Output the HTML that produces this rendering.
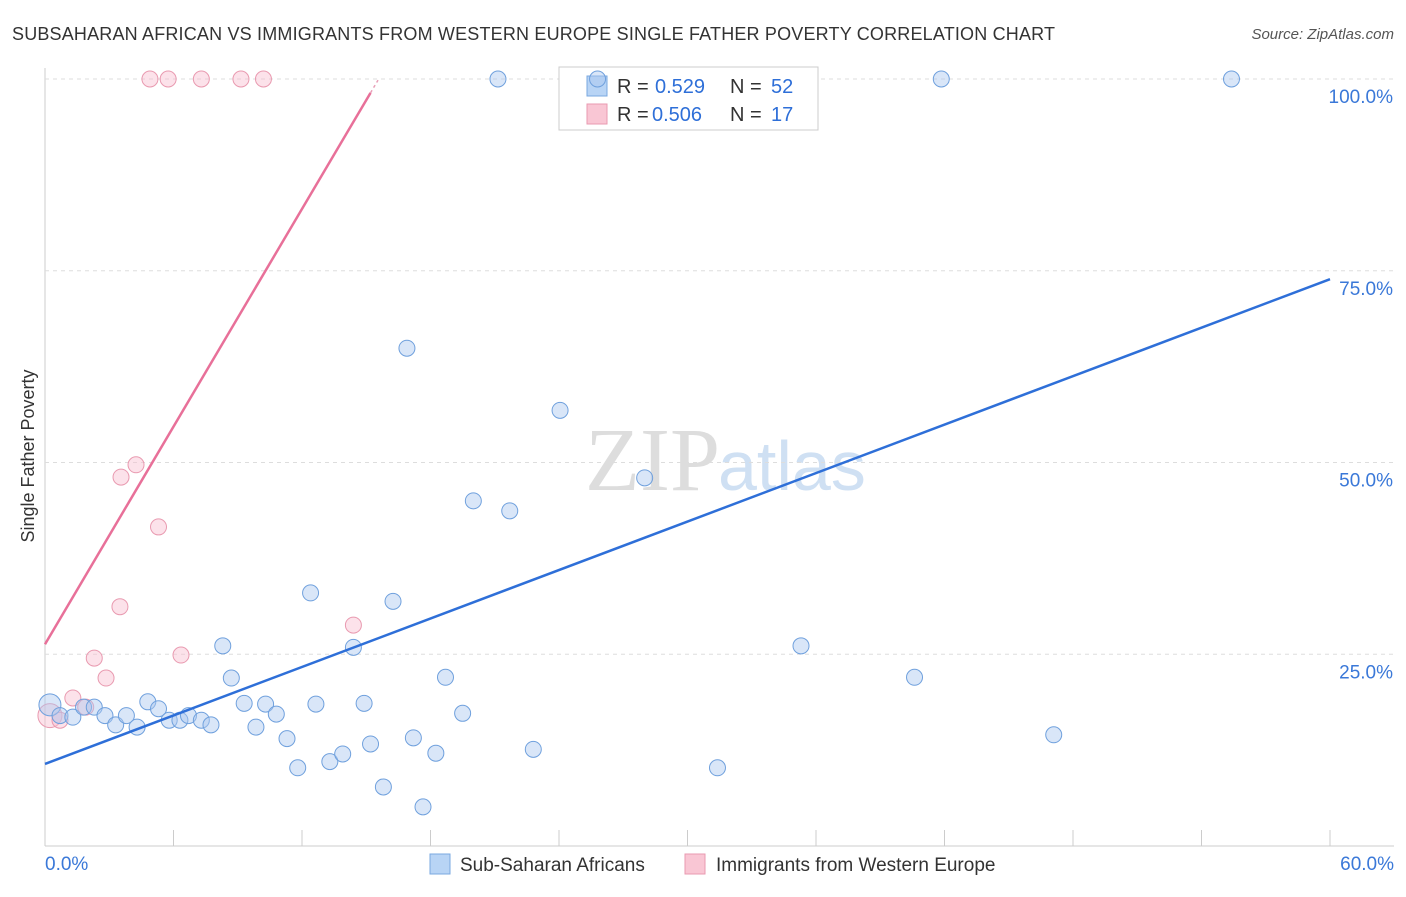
<!DOCTYPE html>
<html><head><meta charset="utf-8"><style>
body{margin:0;background:#fff;font-family:"Liberation Sans",sans-serif}
</style></head><body>
<svg id="c" width="1406" height="892" xmlns="http://www.w3.org/2000/svg">
<text x="12" y="40" font-size="18" fill="#333" textLength="1043">SUBSAHARAN AFRICAN VS IMMIGRANTS FROM WESTERN EUROPE SINGLE FATHER POVERTY CORRELATION CHART</text>
<text x="1394" y="39" font-size="15" fill="#555" font-style="italic" text-anchor="end">Source: ZipAtlas.com</text>
<text x="34" y="456" font-size="18" fill="#333" transform="rotate(-90 34 456)" text-anchor="middle">Single Father Poverty</text>
<text x="720" y="490" font-size="90" fill="#ddd" font-family="Liberation Serif" text-anchor="end">ZIP</text>
<text x="718" y="490" font-size="70" fill="#cfe0f3">atlas</text>
<g id="grid"></g>
<g>
<rect x="559" y="67" width="259" height="63" fill="#fff" stroke="#ccc"/>
<rect x="587" y="76" width="20" height="20" fill="#b8d4f5" stroke="#7aa8e0"/>
<rect x="587" y="104" width="20" height="20" fill="#f9c6d4" stroke="#e99ab0"/>
<text x="617" y="93" font-size="20" fill="#333">R =</text>
<text x="655" y="93" font-size="20" fill="#2e6fd8">0.529</text>
<text x="730" y="93" font-size="20" fill="#333">N =</text>
<text x="771" y="93" font-size="20" fill="#2e6fd8">52</text>
<text x="617" y="121" font-size="20" fill="#333">R =</text>
<text x="652" y="121" font-size="20" fill="#2e6fd8">0.506</text>
<text x="730" y="121" font-size="20" fill="#333">N =</text>
<text x="771" y="121" font-size="20" fill="#2e6fd8">17</text>
</g>
<g id="pts"></g><g id="lines"></g>
<g>
<rect x="430" y="854" width="20" height="20" fill="#b8d4f5" stroke="#7aa8e0"/>
<text x="460" y="871" font-size="19" fill="#333">Sub-Saharan Africans</text>
<rect x="685" y="854" width="20" height="20" fill="#f9c6d4" stroke="#e99ab0"/>
<text x="716" y="871" font-size="19" fill="#333">Immigrants from Western Europe</text>
</g>
<text x="45" y="870" font-size="19" fill="#3a78d8">0.0%</text>
<text x="1394" y="870" font-size="19" fill="#3a78d8" text-anchor="end">60.0%</text>
</svg>
<script>
const blueX=[0.23,0.7,1.3,1.8,2.3,2.8,3.3,3.8,4.3,4.8,5.3,5.8,6.3,6.7,7.3,7.75,8.3,8.7,9.3,9.85,10.3,10.8,11.3,11.8,12.4,12.65,13.3,13.9,14.4,14.9,15.2,15.8,16.25,16.9,17.2,17.65,18.25,18.7,19.5,20,21.15,21.7,22.8,24.05,25.8,28,31.4,35.3,40.6,41.85,47.1,55.4];
const blueY=[18.4,17,16.8,18.1,18.1,17,15.8,17,15.5,18.8,17.9,16.4,16.4,17,16.4,15.8,26.1,21.9,18.6,15.5,18.5,17.2,14,10.2,33,18.5,11,12,25.9,18.6,13.3,7.7,31.9,64.9,14.1,5.1,12.1,22,17.3,45,100,43.7,12.6,56.8,100,48,10.2,26.1,22,100,14.5,100];
const pinkX=[0.23,0.7,1.3,1.9,2.3,2.85,3.5,3.55,4.25,4.9,5.3,5.75,6.35,7.3,9.15,10.2,14.4];
const pinkY=[17,16.4,19.3,18.1,24.5,21.9,31.2,48.1,49.7,100,41.6,100,24.9,100,100,100,28.8];
const yTicks=[25,50,75,100];
const yTickLabels=["25.0%","50.0%","75.0%","100.0%"];
const blueLine=[10.7,73.9];
const pinkLine=[26.3,4.73];
const X=v=>45+v*1285/60, Y=v=>846-v*7.67;
const NS="http://www.w3.org/2000/svg";
function mk(p,t,a){const e=document.createElementNS(NS,t);for(const k in a)e.setAttribute(k,a[k]);p.appendChild(e);return e;}
const g=document.getElementById('grid');
mk(g,'line',{x1:45,y1:68,x2:45,y2:846,stroke:'#ccc'});
mk(g,'line',{x1:45,y1:846,x2:1394,y2:846,stroke:'#ccc'});
for(let i=0;i<=10;i++){const l=mk(g,'line',{x1:X(i*6),y1:830,x2:X(i*6),y2:846,stroke:'#ccc'});}
yTicks.forEach((t,i)=>{const l=mk(g,'line',{x1:45,y1:Y(t),x2:1394,y2:Y(t),stroke:'#ddd','stroke-dasharray':'4,4'});

const tx=mk(g,'text',{x:1393,y:Y(t)+24,'font-size':19,fill:'#3a78d8','text-anchor':'end'});tx.textContent=yTickLabels[i];
});
const p=document.getElementById('pts');
pinkX.forEach((x,i)=>{const c=mk(p,'circle',{cx:X(x),cy:Y(pinkY[i]),r:i==0?12:8,fill:'rgba(249,190,208,0.45)',stroke:'#e99ab0'});
});
blueX.forEach((x,i)=>{const c=mk(p,'circle',{cx:X(x),cy:Y(blueY[i]),r:i==0?11:8,fill:'rgba(170,200,240,0.45)',stroke:'#6fa0dd'});
});
const L=document.getElementById('lines');
const b=mk(L,'line',{x1:X(0),y1:Y(blueLine[0]),x2:X(60),y2:Y(blueLine[1]),stroke:'#2e6fd8','stroke-width':2.5});

const pk=mk(L,'line',{x1:X(0),y1:Y(pinkLine[0]),x2:X(15.2),y2:Y(pinkLine[0]+pinkLine[1]*15.2),stroke:'#e87099','stroke-width':2.5});

const pd=mk(L,'line',{x1:X(15.2),y1:Y(pinkLine[0]+pinkLine[1]*15.2),x2:X(15.55),y2:Y(pinkLine[0]+pinkLine[1]*15.55),stroke:'#e8a0b8','stroke-width':1.5,'stroke-dasharray':'3,3'});

</script>
</body></html>
